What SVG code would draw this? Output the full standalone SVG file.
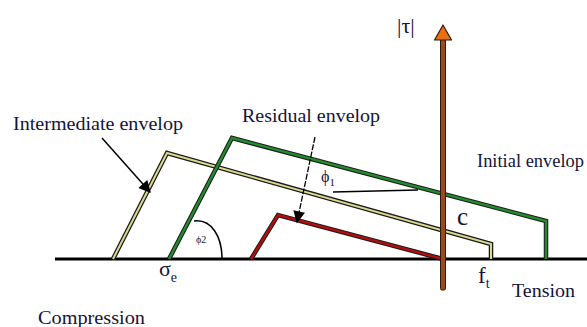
<svg xmlns="http://www.w3.org/2000/svg" width="587" height="327" viewBox="0 0 587 327">
<style>
  .t { font-family: "Liberation Serif", "Times New Roman", "DejaVu Serif", serif; fill: #14143a; }
  .lbl { font-size: 19px; }
  .out { fill: none; stroke: #1a1a1a; stroke-width: 4.5; stroke-linejoin: miter; }
  .yel { fill: none; stroke: #d9d98f; stroke-width: 2; stroke-linejoin: miter; }
  .grn { fill: none; stroke: #238a2e; stroke-width: 2.4; stroke-linejoin: miter; }
  .red { fill: none; stroke: #b00f0f; stroke-width: 2.4; stroke-linejoin: miter; }
  .thin { fill: none; stroke: #000; stroke-width: 1.5; }
</style>
<defs>
  <marker id="ah" viewBox="0 0 10 10" refX="9" refY="5" markerWidth="13" markerHeight="12" orient="auto" markerUnits="userSpaceOnUse">
    <path d="M0,0 L10,5 L0,10 z" fill="#000"/>
  </marker>
</defs>
<rect width="587" height="327" fill="#fff"/>

<g id="axis-x">
  <line x1="55" y1="259" x2="587" y2="259" stroke="#000" stroke-width="3.2"/>
</g>

<g id="intermediate-envelop">
  <path class="out" d="M113,259 L167,153 L491,244 L491,259"/>
  <path class="yel" d="M113,259 L167,153 L491,244 L491,259"/>
</g>

<g id="initial-envelop">
  <path class="out" d="M169,259 L232,138 L546,221 L546,259"/>
  <path class="grn" d="M169,259 L232,138 L546,221 L546,259"/>
</g>

<g id="residual-envelop">
  <path class="out" d="M251,259 L278,215 L443,259"/>
  <path class="red" d="M251,259 L278,215 L443,259"/>
</g>

<g id="axis-tau">
  <rect x="440.5" y="38" width="5" height="252" rx="1.5" fill="#9c4a18" stroke="#2a1a10" stroke-width="1"/>
  <path d="M443,25 L451.5,40 L434.5,40 z" fill="#e8700f" stroke="#2a1a10" stroke-width="1.2" stroke-linejoin="round"/>
</g>

<g id="connectors">
  <line x1="102" y1="138" x2="150" y2="192" stroke="#000" stroke-width="1.5" marker-end="url(#ah)"/>
  <line x1="315" y1="137" x2="297" y2="222" stroke="#000" stroke-width="1.3" stroke-dasharray="6 1.5" marker-end="url(#ah)"/>
  <line class="thin" x1="333" y1="192" x2="418" y2="190"/>
  <path class="thin" d="M194,221 C212,219 222,237 222,259"/>
</g>

<g id="labels" font-family="'Liberation Serif', 'Times New Roman', serif">
  <text class="t lbl" x="13" y="130" textLength="170" lengthAdjust="spacingAndGlyphs">Intermediate envelop</text>
  <text class="t lbl" x="242" y="122" textLength="138" lengthAdjust="spacingAndGlyphs">Residual envelop</text>
  <text class="t lbl" x="477" y="167" textLength="107" lengthAdjust="spacingAndGlyphs">Initial envelop</text>
  <text class="t lbl" x="38" y="324" textLength="107" lengthAdjust="spacingAndGlyphs">Compression</text>
  <text class="t lbl" x="512" y="297" textLength="63" lengthAdjust="spacingAndGlyphs">Tension</text>
  <text class="t" x="397" y="33" font-size="22">|τ|</text>
  <text class="t" x="457" y="225" font-size="25">c</text>
  <text class="t" x="478" y="283" font-size="23">f<tspan font-size="14" dy="5">t</tspan></text>
  <text class="t" x="159" y="276" font-size="22">σ<tspan font-size="14" dy="6">e</tspan></text>
  <text class="t" x="321" y="182" font-size="16">ϕ<tspan font-size="11" dy="4">1</tspan></text>
  <text class="t" x="196" y="243" font-size="10">ϕ2</text>
</g>
</svg>
